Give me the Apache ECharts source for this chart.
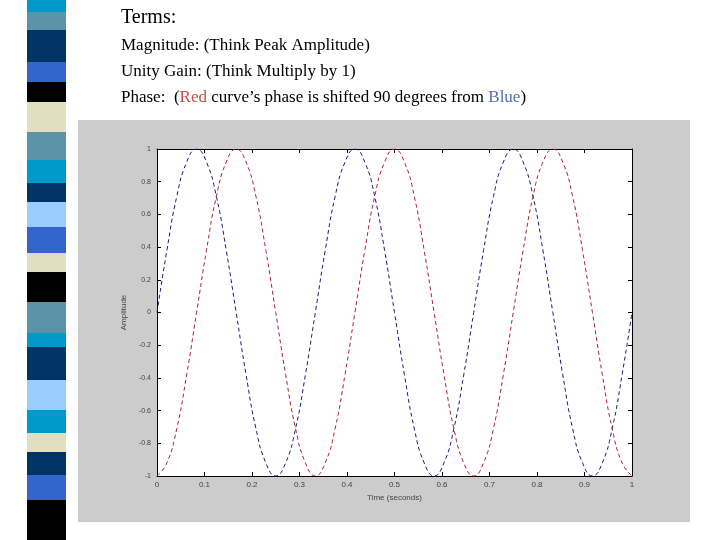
<!DOCTYPE html><html><head><meta charset="utf-8">
<script src="https://cdn.jsdelivr.net/npm/echarts@6/dist/echarts.min.js"></script>
<style>html,body{margin:0;padding:0;background:#fff}#c{width:720px;height:540px}</style></head><body><div id="c"></div>
<script>
var xValues = [];
for (var i = 0; i <= 48; i++) xValues.push(i / 48);
var blueValues = [0,.38,.71,.92,1,.92,.71,.38,0,-.38,-.71,-.92,-1,-.92,-.71,-.38,
  0,.38,.71,.92,1,.92,.71,.38,0,-.38,-.71,-.92,-1,-.92,-.71,-.38,
  0,.38,.71,.92,1,.92,.71,.38,0,-.38,-.71,-.92,-1,-.92,-.71,-.38,0];
var redValues = [-1,-.92,-.71,-.38,0,.38,.71,.92,1,.92,.71,.38,0,-.38,-.71,-.92,
  -1,-.92,-.71,-.38,0,.38,.71,.92,1,.92,.71,.38,0,-.38,-.71,-.92,
  -1,-.92,-.71,-.38,0,.38,.71,.92,1,.92,.71,.38,0,-.38,-.71,-.92,-1];
var stripeColors = ['#0099cc','#5b93a8','#003366','#3366cc','#000000','#e0e0c0','#5b93a8','#0099cc','#003366','#99ccff','#3366cc','#e0e0c0','#000000','#5b93a8','#0099cc','#003366','#99ccff','#0099cc','#e0e0c0','#003366','#3366cc','#000000'];
var stripeEdges = [0,12,30,62,82,102,132,160,183,202,227,253,272,302,333,347,380,410,433,452,475,500,540];

var chart = echarts.init(document.getElementById('c'));
var graphics = [{type:'rect',shape:{x:78,y:120,width:612,height:402},style:{fill:'#cccccc'},z:-10}];
for (var s = 0; s < stripeColors.length; s++) {
  graphics.push({type:'rect',shape:{x:27,y:stripeEdges[s],width:39,height:stripeEdges[s+1]-stripeEdges[s]},style:{fill:stripeColors[s]},z:-5});
}
graphics.push({type:'text',left:121,top:8,style:{text:'Terms:',font:'20px "Liberation Serif"',fill:'#000'}});
graphics.push({type:'text',left:121,top:37,style:{text:'Magnitude: (Think Peak Amplitude)',font:'17px "Liberation Serif"',fill:'#000'}});
graphics.push({type:'text',left:121,top:63,style:{text:'Unity Gain: (Think Multiply by 1)',font:'17px "Liberation Serif"',fill:'#000'}});
graphics.push({type:'text',left:121,top:89,style:{rich:{a:{font:'17px "Liberation Serif"',fill:'#000'},r:{font:'17px "Liberation Serif"',fill:'#c0504d'},b:{font:'17px "Liberation Serif"',fill:'#4f6fa8'}},text:'{a|Phase:  (}{r|Red}{a| curve\u2019s phase is shifted 90 degrees from }{b|Blue}{a|)}'}});
graphics.push({type:'rect',shape:{x:157,y:149,width:475,height:327},style:{fill:'#fff'},z:-4});

var axisLine = {show:true,onZero:false,lineStyle:{color:'#000'}};
var tick = {show:true,inside:true,length:4,lineStyle:{color:'#000'}};
chart.setOption({
  animation:false,
  graphic:graphics,
  grid:{left:157,right:88,top:149,bottom:64},
  xAxis:[{type:'value',position:'bottom',min:0,max:1,interval:0.1,name:'Time (seconds)',nameLocation:'middle',nameGap:18,
    nameTextStyle:{fontSize:8,color:'#444'},axisLine:axisLine,axisTick:tick,
    axisLabel:{fontSize:8,color:'#444',margin:5},splitLine:{show:false}},
    {type:'value',position:'top',min:0,max:1,interval:0.1,axisLine:axisLine,axisTick:tick,axisLabel:{show:false},splitLine:{show:false}}],
  yAxis:[{type:'value',position:'left',min:-1,max:1,interval:0.2,name:'Amplitude',nameLocation:'middle',nameGap:18,
    nameTextStyle:{fontSize:8,color:'#444'},axisLine:axisLine,axisTick:tick,
    axisLabel:{fontSize:7,color:'#444',margin:6,formatter:function(v){return Math.abs(v)<1e-9?'0':(+v.toFixed(1)).toString();}},splitLine:{show:false}},
    {type:'value',position:'right',min:-1,max:1,interval:0.2,axisLine:axisLine,axisTick:tick,axisLabel:{show:false},splitLine:{show:false}}],
  series:[
    {type:'line',smooth:0.5,symbol:'none',data:xValues.map(function(x,i){return [x,blueValues[i]];}),lineStyle:{color:'#1a1a80',width:1,type:[4,3]}},
    {type:'line',smooth:0.5,symbol:'none',data:xValues.map(function(x,i){return [x,redValues[i]];}),lineStyle:{color:'#b02030',width:1,type:[4,3]}}
  ]
});
</script></body></html>
